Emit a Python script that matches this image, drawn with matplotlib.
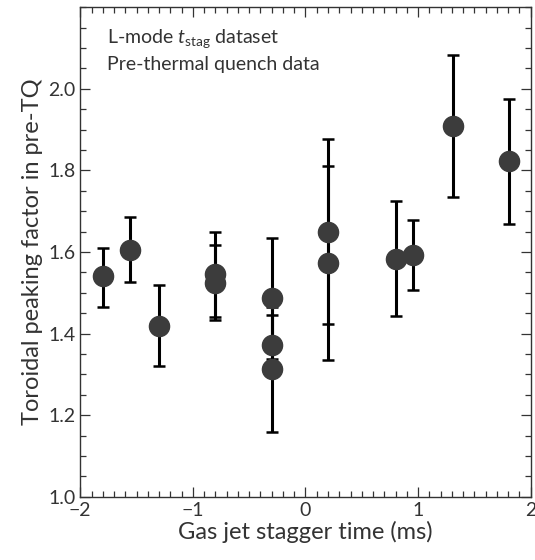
import matplotlib
matplotlib.use("Agg")
import matplotlib.pyplot as plt
from matplotlib.ticker import MultipleLocator

plt.rcParams['font.family'] = ['Lato', 'DejaVu Sans']
plt.rcParams['mathtext.fontset'] = 'custom'
plt.rcParams['mathtext.it'] = 'Lato:italic'
plt.rcParams['mathtext.rm'] = 'Lato'

# stagger time (ms), peaking factor, lower/upper error
t_stag = [-1.80, -1.555, -1.30, -0.80, -0.80, -0.30, -0.30, -0.30, 0.20, 0.20, 0.806, 0.954, 1.308, 1.81]
peaking = [1.540, 1.606, 1.419, 1.547, 1.523, 1.488, 1.371, 1.312, 1.650, 1.573, 1.584, 1.592, 1.908, 1.822]
err_lo = [0.075, 0.080, 0.099, 0.106, 0.090, 0.151, 0.074, 0.154, 0.226, 0.237, 0.142, 0.084, 0.172, 0.154]
err_hi = [0.071, 0.080, 0.099, 0.102, 0.093, 0.146, 0.074, 0.154, 0.228, 0.237, 0.142, 0.086, 0.174, 0.153]

txt = '#333333'

fig = plt.figure(figsize=(5.35, 5.6), dpi=100)
ax = fig.add_axes([0.150, 0.113, 0.842, 0.874])

ax.errorbar(t_stag, peaking, yerr=[err_lo, err_hi], fmt='none', ecolor='black',
            elinewidth=2.2, capsize=4, capthick=1.8, zorder=2)
ax.plot(t_stag, peaking, 'o', color='#3c3c3c', markersize=14.5, zorder=3)

ax.set_xlim(-2, 2)
ax.set_ylim(1.0, 2.2)
ax.xaxis.set_major_locator(MultipleLocator(1))
ax.xaxis.set_minor_locator(MultipleLocator(0.1))
ax.yaxis.set_major_locator(MultipleLocator(0.2))
ax.yaxis.set_minor_locator(MultipleLocator(0.05))
ax.set_yticks([1.0, 1.2, 1.4, 1.6, 1.8, 2.0])
ax.tick_params(which='both', direction='in', top=True, right=True, colors=txt,
               labelsize=14, width=0.9)
ax.tick_params(which='major', length=7)
ax.tick_params(which='minor', length=4)
for s in ax.spines.values():
    s.set_color(txt)
    s.set_linewidth(1.0)

ax.set_xlabel('Gas jet stagger time (ms)', fontsize=17, color=txt, labelpad=2)
ax.set_ylabel('Toroidal peaking factor in pre-TQ', fontsize=17, color=txt, labelpad=4)

ax.text(0.059, 0.937, r'L-mode $t_{\mathrm{stag}}$ dataset', transform=ax.transAxes,
        fontsize=14, color=txt, va='center')
ax.text(0.059, 0.884, 'Pre-thermal quench data', transform=ax.transAxes,
        fontsize=14, color=txt, va='center')

fig.savefig('out.png', dpi=100)
